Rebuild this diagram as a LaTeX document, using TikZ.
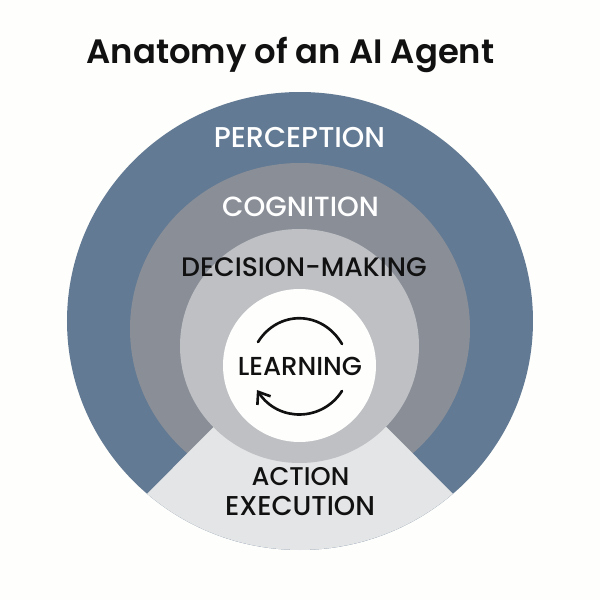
\documentclass[tikz,border=0pt]{standalone}
\usepackage{fontspec}
\setmainfont{Poppins}
\newfontfamily\titlefont{Poppins SemiBold}
\newfontfamily\labelfont{Poppins Medium}
\usepackage{xcolor}
\usetikzlibrary{arrows.meta}
\definecolor{paper}{HTML}{FEFEFC}
\definecolor{perceptionblue}{HTML}{627A94}
\definecolor{cognitiongray}{HTML}{898E97}
\definecolor{decisiongray}{HTML}{BEC0C4}
\definecolor{actiongray}{HTML}{E4E5E6}
\definecolor{inktext}{HTML}{111111}
\tikzset{
  title/.style={anchor=base,font=\titlefont\fontsize{19.25}{23}\selectfont,text=inktext},
  ringlabel/.style={anchor=base,font=\labelfont\fontsize{#1}{17}\selectfont,text=inktext},
  cyclearc/.style={line width=1.5pt,line cap=round,draw=inktext},
}

\begin{document}
\begin{tikzpicture}[x=0.02cm,y=0.02cm]
  % Page
  \fill[paper] (0,0) rectangle (600,600);
  \useasboundingbox (0,0) rectangle (600,600);

  % Rings
  \fill[perceptionblue] (300,279) ellipse [x radius=233, y radius=229];
  \fill[cognitiongray] (300,271) ellipse [x radius=170, y radius=166];

  % Wedge
  \coordinate (apex) at (300,260);
  \coordinate (wedgeleft) at (147.1,106.2);
  \fill[actiongray] (apex) -- (wedgeleft)
    arc [start angle=229, end angle=311, x radius=233, y radius=229] -- cycle;

  \fill[decisiongray] (299.5,254) ellipse [x radius=119.5, y radius=117];
  \fill[paper] (299.5,234.5) ellipse [x radius=76.5, y radius=76.5];

  % Cycle arcs
  \coordinate (topleft) at (258,258);
  \coordinate (topright) at (342,256);
  \coordinate (botright) at (342,209);
  \coordinate (botleft) at (257,210);
  \draw[cyclearc] (topleft) .. controls (278,290) and (322,290) .. (topright);
  \draw[cyclearc,-{Straight Barb[length=6pt,width=9pt]}] (botright) .. controls (322,178) and (278,178) .. (botleft);

  % Labels
  \node[title] (anatomy) at (290.5,537) {Anatomy of an AI Agent};
  \node[ringlabel=16.3,text=white] (perception) at (299.5,452.5) {PERCEPTION};
  \node[ringlabel=15.8,text=white] (cognition) at (300.5,383.5) {COGNITION};
  \node[ringlabel=15.2] (decision) at (304,324) {DECISION-MAKING};
  \node[ringlabel=14.8] (learning) at (300,225) {LEARNING};
  \node[ringlabel=14.6] (action) at (300.5,114) {ACTION};
  \node[ringlabel=15.5] (execution) at (300,85) {EXECUTION};
\end{tikzpicture}
\end{document}
